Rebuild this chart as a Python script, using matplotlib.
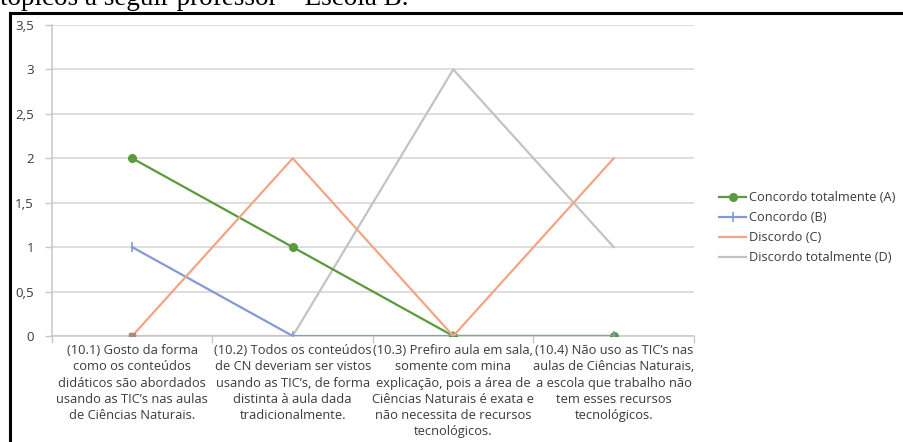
import matplotlib
matplotlib.use("Agg")
import matplotlib.pyplot as plt
from matplotlib.patches import Rectangle
from matplotlib.ticker import FixedLocator, NullFormatter

categories = [
    "(10.1) Gosto da forma\ncomo os conteúdos\ndidáticos são abordados\nusando as TIC’s nas aulas\nde Ciências Naturais.",
    "(10.2) Todos os conteúdos\nde CN deveriam ser vistos\nusando as TIC’s, de forma\ndistinta à aula dada\ntradicionalmente.",
    "(10.3) Prefiro aula em sala,\nsomente com mina\nexplicação, pois a área de\nCiências Naturais é exata e\nnão necessita de recursos\ntecnológicos.",
    "(10.4) Não uso as TIC’s nas\naulas de Ciências Naturais,\na escola que trabalho não\ntem esses recursos\ntecnológicos.",
]
concordo_totalmente = [2, 1, 0, 0]
concordo = [1, 0, 0, 0]
discordo = [0, 2, 0, 2]
discordo_totalmente = [0, 0, 3, 1]
series_names = ["Concordo totalmente (A)", "Concordo (B)", "Discordo (C)", "Discordo totalmente (D)"]
y_ticks = [0, 0.5, 1, 1.5, 2, 2.5, 3, 3.5]
y_tick_labels = ["0", "0,5", "1", "1,5", "2", "2,5", "3", "3,5"]
title = "tópicos a seguir professor – Escola B."

FONT = "Open Sans"
TXT = "#3b3b3b"
W, H = 904, 442

fig = plt.figure(figsize=(W / 100, H / 100), dpi=100)

# caption line above the chart, only its lower part shows
fig.text(0 / W, 1 - 5 / H, title, family="Liberation Serif", fontsize=19.5,
         ha="left", va="baseline", color="black")

# chart frame
fig.patches.append(Rectangle((10 / W, -0.1), 1.2, 1 - 12.5 / H + 0.1, transform=fig.transFigure,
                             fill=False, edgecolor="black", linewidth=2.2, zorder=0))

ax = fig.add_axes([52 / W, 1 - 336 / H, (694 - 52) / W, (336 - 25) / H])
x = list(range(len(categories)))

ax.plot(x, concordo_totalmente, color="#5b9a3c", lw=1.6, marker="o", ms=5.5,
        label=series_names[0], zorder=3)
ax.plot(x, concordo, color="#8499d6", lw=1.6, marker="|", ms=7, mew=1.2,
        label=series_names[1], zorder=4)
ax.plot(x, discordo, color="#f2a582", lw=1.6, label=series_names[2], zorder=5)
# small square marker on the first point of series C
ax.plot(x[:1], discordo[:1], ls="none", marker="s", ms=4.5,
        mfc="#a98b78", mec="#a98b78", zorder=6)
ax.plot(x, discordo_totalmente, color="#c3c3c3", lw=1.6, label=series_names[3], zorder=2)

ax.set_xlim(-0.5, len(categories) - 0.5)
ax.set_ylim(0, 3.5)
ax.set_yticks(y_ticks)
ax.set_yticklabels(y_tick_labels, family=FONT, fontsize=9.6, color=TXT)
ax.yaxis.grid(True, color="#d4d4d4", lw=1.1)
ax.set_axisbelow(True)
ax.tick_params(axis="y", length=5, width=1, color="#c8c8c8", pad=8)

# category boundaries carry the tick marks; labels sit at the centres
ax.xaxis.set_major_locator(FixedLocator([i - 0.5 for i in range(len(categories) + 1)]))
ax.xaxis.set_major_formatter(NullFormatter())
ax.xaxis.set_minor_locator(FixedLocator(x))
ax.set_xticklabels(categories, minor=True, family=FONT, fontsize=9.3, color=TXT,
                   linespacing=1.31, ha="center", va="top")
ax.tick_params(axis="x", which="major", length=5, width=1, color="#c8c8c8")
ax.tick_params(axis="x", which="minor", length=0, pad=6)

for s in ["top", "right"]:
    ax.spines[s].set_visible(False)
for s in ["left", "bottom"]:
    ax.spines[s].set_color("#c8c8c8")
    ax.spines[s].set_linewidth(1.1)

leg = fig.legend(loc="upper left", bbox_to_anchor=(714 / W, 1 - 186 / H), frameon=False,
                 prop={"family": FONT, "size": 9.2}, handlelength=2.1, handletextpad=0.25,
                 labelspacing=0.55, borderaxespad=0)
for t in leg.get_texts():
    t.set_color(TXT)

fig.savefig("out.png", dpi=100)
